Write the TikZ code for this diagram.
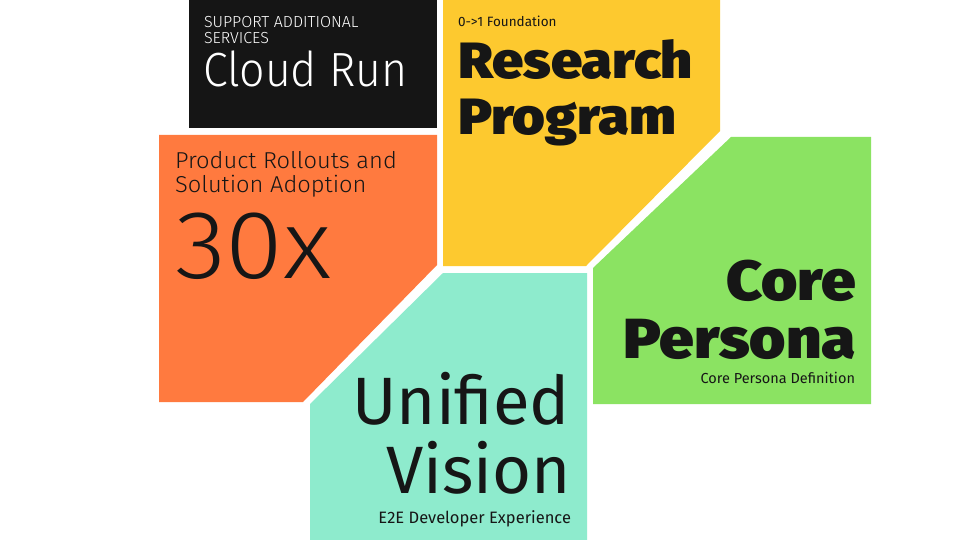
\documentclass[tikz,border=0pt]{standalone}
\usepackage{fontspec}
\setmainfont{Fira Sans}
\newfontfamily\lightf{Fira Sans Light}
\newfontfamily\heavyf{Fira Sans Black}
\definecolor{cblack}{HTML}{151515}
\definecolor{cyellow}{HTML}{FDC92F}
\definecolor{corange}{HTML}{FF7A3F}
\definecolor{cgreen}{HTML}{8BE362}
\definecolor{cteal}{HTML}{8EEBCD}
\definecolor{ctext}{HTML}{161616}
\newcommand{\wid}[2]{\scalebox{#1}[1]{#2}}
\begin{document}
\begin{tikzpicture}[x=1pt,y=-1pt,
  lbl/.style={inner sep=0pt,outer sep=0pt,text=ctext},
  lblw/.style={inner sep=0pt,outer sep=0pt,text=white}]
\useasboundingbox[fill=white] (0,0) rectangle (960,540);
% tiles
\fill[cblack] (189,0) -- (437,0) -- (437,128) -- (189,128) -- cycle;
\fill[cyellow] (443,0) -- (720,0) -- (720,131) -- (586,266) -- (443,266) -- cycle;
\fill[corange] (159,135) -- (437,135) -- (437,265) -- (303,402) -- (159,402) -- cycle;
\fill[cgreen] (731,137) -- (871,137) -- (871,404) -- (593,404) -- (593,268) -- cycle;
\fill[cteal] (443,273) -- (587,273) -- (587,540) -- (310,540) -- (310,404) -- cycle;
% black tile text
\node[lblw,anchor=base west,font=\lightf\fontsize{16}{18}\selectfont] (cr1) at (204,28) {SUPPORT ADDITIONAL};
\node[lblw,anchor=base west,font=\lightf\fontsize{16}{18}\selectfont] (cr2) at (204,44) {SERVICES};
\node[lblw,anchor=base west,font=\lightf\fontsize{48}{48}\selectfont] (cr3) at (203,87) {\wid{0.93}{Cloud Run}};
% yellow tile text
\node[lbl,anchor=base west,font=\fontsize{13.5}{15}\selectfont] (rp1) at (458,27) {0->1 Foundation};
\node[lbl,anchor=base west,font=\heavyf\fontsize{51}{51}\selectfont] (rp2) at (458,79) {\wid{1.1}{Research}};
\node[lbl,anchor=base west,font=\heavyf\fontsize{51}{51}\selectfont] (rp3) at (458,135) {\wid{1.1}{Program}};
% orange tile text
\node[lbl,anchor=base west,font=\lightf\fontsize{23}{25}\selectfont] (po1) at (175,169) {\wid{1.03}{Product Rollouts and}};
\node[lbl,anchor=base west,font=\lightf\fontsize{23}{25}\selectfont] (po2) at (175,193) {\wid{1.03}{Solution Adoption}};
\node[lbl,anchor=base west,font=\lightf\fontsize{97}{97}\selectfont] (po3) at (175,278) {\wid{1.08}{30x}};
% green tile text
\node[lbl,anchor=base east,font=\heavyf\fontsize{56.5}{56.5}\selectfont] (cp1) at (856,300) {\wid{1.1}{Core}};
\node[lbl,anchor=base east,font=\heavyf\fontsize{56.5}{56.5}\selectfont] (cp2) at (856,358) {\wid{1.1}{Persona}};
\node[lbl,anchor=base east,font=\fontsize{14.5}{16}\selectfont] (cp3) at (855,383) {Core Persona Definition};
% teal tile text
\node[lbl,anchor=base east,font=\fontsize{67}{67}\selectfont] (uv1) at (570,424) {Unified};
\node[lbl,anchor=base east,text depth=0pt,font=\fontsize{67}{67}\selectfont] (uv2) at (571,493) {Vision};
\node[lbl,anchor=base east,text height=11pt,font=\fontsize{16.5}{18}\selectfont] (uv3) at (571,523) {E2E Developer Experience};
\end{tikzpicture}
\end{document}
